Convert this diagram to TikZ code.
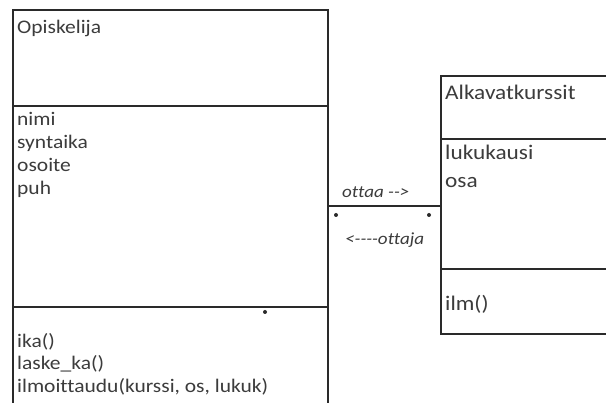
\documentclass[tikz,border=0pt]{standalone}
\usepackage{fontspec}
\setmainfont{Carlito}[FakeStretch=1.12,Ligatures=NoCommon]
\definecolor{linec}{HTML}{2A2A2A}
\definecolor{txtc}{HTML}{3C3C3C}
\begin{document}
\begin{tikzpicture}[x=1pt,y=-1pt,
  box/.style={draw=linec, line width=1.8pt, anchor=north west, inner sep=0pt},
  divider/.style={draw=linec, line width=1.8pt},
  lbl/.style={anchor=base west, inner sep=0pt, text=txtc, font=\fontsize{19.2}{21}\selectfont},
  rlbl/.style={anchor=base west, inner sep=0pt, text=txtc, font=\fontsize{20.8}{22}\selectfont},
  assoc/.style={anchor=base west, inner sep=0pt, text=txtc, font=\itshape\fontsize{17}{18}\selectfont},
  dotm/.style={circle, fill=linec, inner sep=0pt, minimum size=4pt},
  conn/.style={draw=linec, line width=1.8pt}]
\path[use as bounding box] (0,0) rectangle (606,403);
\clip (0,0) rectangle (606,403);
\fill[white] (0,0) rectangle (606,403);
% class Opiskelija
\node[box, minimum width=315pt, minimum height=420pt] (opisk) at (12,9) {};
\coordinate (d1) at (0,106);
\coordinate (d2) at (0,307);
\draw[divider] (opisk.west |- d1) -- (opisk.east |- d1);
\draw[divider] (opisk.west |- d2) -- (opisk.east |- d2);
\node[lbl] (oname) at (17,34) {Opiskelija};
\node[lbl] (a1) at (17,126) {nimi};
\node[lbl] (a2) at (17,149) {syntaika};
\node[lbl] (a3) at (17,172) {osoite};
\node[lbl] (a4) at (17,195) {puh};
\node[lbl] (m1) at (17,348) {ika()};
\node[lbl] (m2) at (17,370) {laske\_ka()};
\node[lbl] (m3) at (17,393) {ilmoittaudu(kurssi, os, lukuk)};
\node[dotm] (dot3) at (265,312) {};
% class Alkavatkurssit
\node[box, minimum width=200pt, minimum height=258pt] (alk) at (440,75) {};
\coordinate (e1) at (0,139);
\coordinate (e2) at (0,269);
\draw[divider] (alk.west |- e1) -- (alk.east |- e1);
\draw[divider] (alk.west |- e2) -- (alk.east |- e2);
\node[rlbl] (aname) at (445,100) {Alkavatkurssit};
\node[rlbl] (b1) at (445,160) {lukukausi};
\node[rlbl] (b2) at (445,188) {osa};
\node[rlbl] (n1) at (445,311) {ilm()};
% association
\coordinate (c) at (0,206);
\draw[conn] (opisk.east |- c) -- (alk.west |- c);
\node[assoc] (lab1) at (342,198) {ottaa -{}->};
\node[assoc] (lab2) at (345,245) {<-{}-{}-{}-ottaja};
\node[dotm] (dot1) at (336,215) {};
\node[dotm] (dot2) at (429,215) {};
\end{tikzpicture}
\end{document}
